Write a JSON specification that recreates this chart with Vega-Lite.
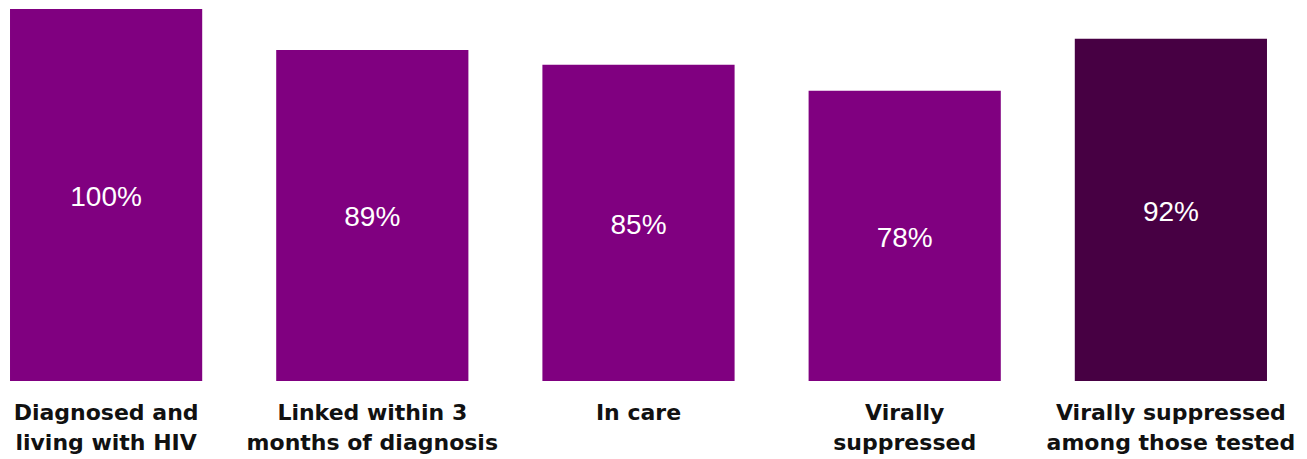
{
  "$schema": "https://vega.github.io/schema/vega-lite/v6.json",
  "width": 1277,
  "height": 372,
  "autosize": "none",
  "padding": {"left": 0, "top": 9, "right": 30, "bottom": 78},
  "config": {"view": {"stroke": null}},
  "data": {
    "values": [
      {"stage": "Diagnosed and|living with HIV", "pct": 1.0, "group": "main"},
      {"stage": "Linked within 3|months of diagnosis", "pct": 0.89, "group": "main"},
      {"stage": "In care", "pct": 0.85, "group": "main"},
      {"stage": "Virally|suppressed", "pct": 0.78, "group": "main"},
      {"stage": "Virally suppressed|among those tested", "pct": 0.92, "group": "tested"}
    ]
  },
  "encoding": {
    "x": {
      "field": "stage",
      "type": "nominal",
      "sort": null,
      "scale": {"paddingInner": 0.278, "paddingOuter": 0.0376},
      "axis": {
        "title": null,
        "domain": false,
        "ticks": false,
        "labelAngle": 0,
        "labelFont": "DejaVu Sans",
        "labelFontWeight": "bold",
        "labelFontSize": 22,
        "labelColor": "#111111",
        "labelLineHeight": 30,
        "labelPadding": 31,
        "labelBaseline": "middle",
        "labelLimit": 0,
        "labelExpr": "split(datum.value, '|')"
      }
    }
  },
  "layer": [
    {
      "mark": {"type": "bar"},
      "encoding": {
        "y": {"field": "pct", "type": "quantitative", "scale": {"domain": [0, 1]}, "axis": null},
        "color": {
          "field": "group",
          "type": "nominal",
          "scale": {"domain": ["main", "tested"], "range": ["#800080", "#470043"]},
          "legend": null
        }
      }
    },
    {
      "mark": {"type": "text", "color": "white", "font": "Liberation Sans", "fontSize": 28, "baseline": "middle", "dy": 3},
      "encoding": {
        "y": {"field": "pct", "type": "quantitative", "scale": {"domain": [0, 2]}, "axis": null},
        "text": {"field": "pct", "type": "quantitative", "format": ".0%"}
      }
    }
  ],
  "resolve": {"scale": {"y": "independent"}}
}
